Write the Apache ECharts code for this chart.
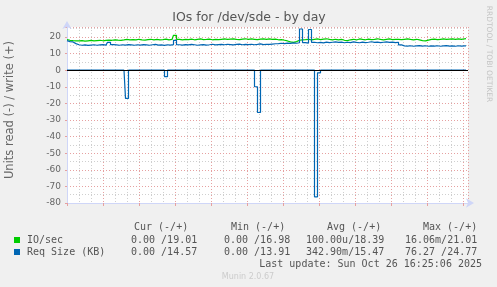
<!DOCTYPE html>
<html><head><meta charset="utf-8">
<script src="https://cdn.jsdelivr.net/npm/echarts@6/dist/echarts.min.js"></script>
<style>html,body{margin:0;padding:0;background:#f0f0f0}#c{width:497px;height:287px}</style>
</head><body><div id="c"></div>
<script>
const chartTitle = 'IOs for /dev/sde - by day';
const yAxisName = 'Units read (-) / write (+)';
const sideText = 'RRDTOOL / TOBI OETIKER';
const footerText = 'Munin 2.0.67';
const xTickHours = [12, 18, 24, 30, 36];
const xTickLabels = ['sam. 12:00', 'sam. 18:00', 'dim. 00:00', 'dim. 05:00', 'dim. 11:00'];
const startHour = 8.25, stepHour = 0.25, endHour = 41.667;
const yMin = -80, yMax = 26;

const ioWrite = [
  18.4,18.0,17.8,
  17.7,17.6,17.8,17.5,17.7,17.9,17.6,17.8,18.0,17.7,17.9,18.1,
  18.0,18.3,18.1,18.0,18.2,18.5,18.3,
  18.4,18.2,18.6,18.3,18.1,18.4,18.6,18.2,18.5,18.3,18.4,18.7,18.2,18.5,
  21.0,
  18.6,18.3,18.5,18.4,18.7,18.3,18.6,18.8,18.4,18.5,18.7,18.3,18.6,18.4,
  18.6,18.8,18.5,18.7,18.9,18.6,18.4,18.7,18.9,18.5,18.8,18.6,18.4,18.7,18.9,18.6,18.8,18.5,18.7,18.3,
  18.4,18.0,17.6,17.0,16.7,17.2,18.0,18.3,
  18.4,18.6,18.2,18.5,18.8,18.4,18.7,18.9,18.5,18.2,18.6,18.3,
  18.5,18.0,17.8,18.3,18.6,18.2,18.8,18.5,18.3,18.7,18.4,18.6,18.9,18.5,18.3,18.6,18.8,18.4,18.6,18.5,
  18.4,18.6,18.8,18.5,18.3,18.6,18.2,17.8,17.6,18.1,18.5,18.7,18.4,18.6,18.8,18.5,18.7,18.9,18.6,18.8,18.5,18.9,19.0
];
const reqWrite = [
  17.8,17.2,17.0,
  16.0,15.3,15.0,15.2,14.9,15.1,15.3,15.0,15.2,15.4,15.1,16.8,
  15.4,15.2,15.0,15.3,15.1,15.4,15.2,
  15.0,15.3,15.1,15.4,15.2,15.0,15.3,15.5,15.1,15.2,14.9,15.3,15.1,15.4,
  18.0,
  15.3,15.1,15.4,15.2,15.5,15.3,15.0,15.2,15.4,15.1,15.3,15.6,15.2,15.4,
  15.5,15.3,15.6,15.4,15.2,15.5,15.7,15.3,15.5,15.4,15.6,15.3,15.5,15.8,15.4,15.6,15.5,15.7,15.9,16.0,
  16.2,16.0,16.3,16.1,16.4,16.2,16.5,24.8,
  16.6,16.3,24.5,16.8,16.5,16.7,16.4,16.9,16.6,16.8,17.0,16.7,
  16.9,16.5,16.8,16.6,17.0,16.7,16.5,16.9,16.6,16.8,17.1,16.7,16.9,16.6,16.8,17.0,16.7,16.9,16.6,16.8,
  15.2,14.6,14.5,14.7,14.4,14.6,14.8,14.5,14.7,14.4,14.6,14.5,14.7,14.4,14.6,14.8,14.5,14.6,14.4,14.7,14.5,14.6,14.6
];
const reqRead = [
  0,0,0,0,0,0,0,0,0,0,
  0,0,0,0,0,0,0,0,0,0,
  -17,0,0,0,0,0,0,0,0,0,
  0,0,0,-3.9,0,0,0,0,0,0,
  0,0,0,0,0,0,0,0,0,0,
  0,0,0,0,0,0,0,0,0,0,
  0,0,0,-10,-25.5,0,0,0,0,0,
  0,0,0,0,0,0,0,0,0,0,
  0,0,0,-76.3,-1.6,0,0,0,0,0,
  0,0,0,0,0,0,0,0,0,0,
  0,0,0,0,0,0,0,0,0,0,
  0,0,0,0,0,0,0,0,0,0,
  0,0,0,0,0,0,0,0,0,0,
  0,0,0,0
];

const seriesNames = ['IO/sec', 'Req Size (KB)'];
const seriesColors = ['#00cc00', '#0066b3'];
const statHeaders = ['Cur (-/+)', 'Min (-/+)', 'Avg (-/+)', 'Max (-/+)'];
const ioStats = ['0.00 /19.01', '0.00 /16.98', '100.00u/18.39', '16.06m/21.01'];
const reqStats = ['0.00 /14.57', '0.00 /13.91', '342.90m/15.47', '76.27 /24.77'];
const lastUpdate = 'Last update: Sun Oct 26 16:25:06 2025';

const toPairs = arr => arr.map((v, i) => [startHour + i * stepHour, v]);

const axisColor = '#cfd6f8';
const majorColor = '#e6a0a0';
const minorColor = '#cfcfcf';
const fontCol = '#666';

const chart = echarts.init(document.getElementById('c'), null, {renderer: 'canvas'});

const mono = '10px "DejaVu Sans Mono"';
const headerX = [134, 231, 327, 423];
const valX = [131, 224, 306, 405];
const graphics = [
  {type: 'text', x: 249, y: 18, style: {text: chartTitle, font: '12.5px "DejaVu Sans"', fill: '#555', textAlign: 'center', textVerticalAlign: 'middle', align: 'center', verticalAlign: 'middle'}},
  {type: 'text', x: 10, y: 110, rotation: Math.PI / 2, style: {text: yAxisName, font: '11.5px "DejaVu Sans"', fill: fontCol, textAlign: 'center', textVerticalAlign: 'middle', align: 'center', verticalAlign: 'middle'}},
  {type: 'text', x: 489, y: 54, rotation: -Math.PI / 2, style: {text: sideText, font: '7.5px "DejaVu Sans"', fill: '#c4c4c4', textAlign: 'center', textVerticalAlign: 'middle', align: 'center', verticalAlign: 'middle'}},
  {type: 'text', x: 248, y: 277, style: {text: footerText, font: '8px "DejaVu Sans"', fill: '#cccccc', textAlign: 'center', textVerticalAlign: 'middle', align: 'center', verticalAlign: 'middle'}},
  {type: 'rect', shape: {x: 14, y: 237, width: 6, height: 6}, style: {fill: seriesColors[0]}},
  {type: 'rect', shape: {x: 14, y: 249, width: 6, height: 6}, style: {fill: seriesColors[1]}},
  {type: 'text', x: 27, y: 240, style: {text: seriesNames[0], font: mono, fill: '#555', textVerticalAlign: 'middle', verticalAlign: 'middle'}},
  {type: 'text', x: 27, y: 252, style: {text: seriesNames[1], font: mono, fill: '#555', textVerticalAlign: 'middle', verticalAlign: 'middle'}},
  {type: 'text', x: 482, y: 264, style: {text: lastUpdate, font: mono, fill: '#555', textAlign: 'right', textVerticalAlign: 'middle', align: 'right', verticalAlign: 'middle'}}
];
statHeaders.forEach((h, k) => graphics.push({type: 'text', x: headerX[k], y: 227, style: {text: h, font: mono, fill: '#555', textVerticalAlign: 'middle', verticalAlign: 'middle'}}));
ioStats.forEach((s, k) => graphics.push({type: 'text', x: valX[k], y: 240, style: {text: s, font: mono, fill: '#555', textVerticalAlign: 'middle', verticalAlign: 'middle'}}));
reqStats.forEach((s, k) => graphics.push({type: 'text', x: valX[k], y: 252, style: {text: s, font: mono, fill: '#555', textVerticalAlign: 'middle', verticalAlign: 'middle'}}));

const option = {
  backgroundColor: '#f0f0f0',
  animation: false,
  grid: {left: 67, right: 29, top: 27, bottom: 84, show: true, backgroundColor: '#ffffff', borderWidth: 0},
  xAxis: [
    {type: 'value', min: startHour, max: endHour, interval: 1, position: 'bottom', z: 0,
     axisLine: {show: false, onZero: false}, axisTick: {show: false}, axisLabel: {show: false},
     splitLine: {show: true, lineStyle: {color: minorColor, width: 1, type: [1, 2]}}},
    {type: 'value', min: startHour, max: endHour, interval: 3, position: 'bottom', z: 1,
     axisLine: {show: true, onZero: false, lineStyle: {color: axisColor, width: 1}, symbol: ['none', 'arrow'], symbolSize: [7, 8], symbolOffset: [0, 6]},
     axisTick: {show: true, length: 3, lineStyle: {color: majorColor}},
     axisLabel: {show: true, margin: 5, color: fontCol, fontFamily: 'DejaVu Sans', fontSize: 9.5,
       formatter: v => { const k = xTickHours.indexOf(Math.round(v * 1000) / 1000); return k >= 0 ? xTickLabels[k] : ''; }},
     splitLine: {show: true, lineStyle: {color: majorColor, width: 1, type: [1, 2]}}}
  ],
  yAxis: [
    {type: 'value', min: yMin, max: yMax, interval: 5, position: 'left', z: 0,
     axisLine: {show: false}, axisTick: {show: false}, axisLabel: {show: false},
     splitLine: {show: true, lineStyle: {color: minorColor, width: 1, type: [1, 2]}}},
    {type: 'value', min: yMin, max: yMax, interval: 10, position: 'left', z: 1,
     axisLine: {show: true, onZero: false, lineStyle: {color: axisColor, width: 1}, symbol: ['none', 'arrow'], symbolSize: [7, 8], symbolOffset: [0, 6]},
     axisTick: {show: true, length: 2, lineStyle: {color: majorColor}},
     axisLabel: {show: true, margin: 6, color: fontCol, fontFamily: 'DejaVu Sans', fontSize: 9,
       formatter: v => (v % 10 === 0 && v <= 20) ? String(v) : ''},
     splitLine: {show: true, lineStyle: {color: majorColor, width: 1, type: [1, 2]}}}
  ],
  series: [
    {name: seriesNames[0], type: 'line', step: 'middle', xAxisIndex: 1, yAxisIndex: 1, data: toPairs(ioWrite), showSymbol: false, symbol: 'none',
     lineStyle: {color: seriesColors[0], width: 1.2}, itemStyle: {color: seriesColors[0]}, z: 3},
    {name: seriesNames[1], type: 'line', step: 'middle', xAxisIndex: 1, yAxisIndex: 1, data: toPairs(reqWrite), showSymbol: false, symbol: 'none',
     lineStyle: {color: seriesColors[1], width: 1.2}, itemStyle: {color: seriesColors[1]}, z: 4},
    {name: seriesNames[1] + ' read', type: 'line', step: 'middle', xAxisIndex: 1, yAxisIndex: 1, data: toPairs(reqRead), showSymbol: false, symbol: 'none',
     lineStyle: {color: seriesColors[1], width: 1.2}, itemStyle: {color: seriesColors[1]}, z: 4,
     markLine: {silent: true, symbol: ['none', 'none'], label: {show: false}, lineStyle: {color: '#000', width: 1.2, type: 'solid'}, data: [{yAxis: 0}], z: 6}}
  ],
  graphic: graphics
};
chart.setOption(option);
</script>
</body></html>
